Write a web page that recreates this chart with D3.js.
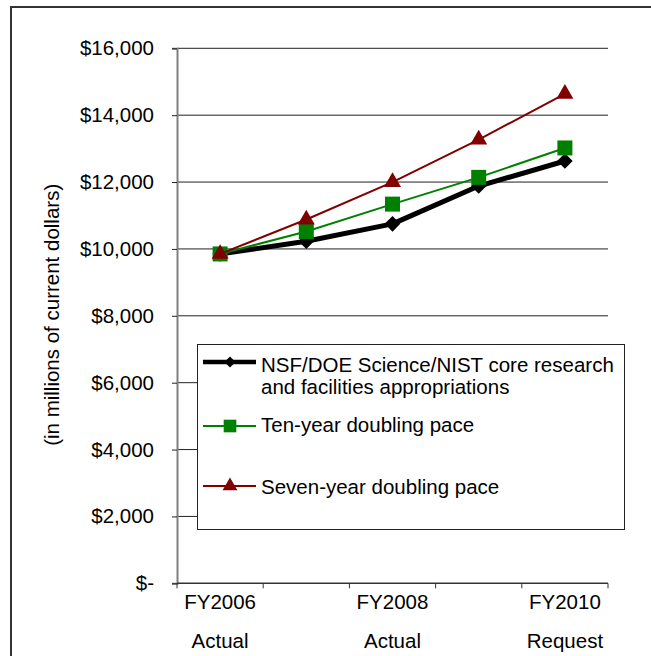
<!DOCTYPE html>
<html>
<head>
<meta charset="utf-8">
<script src="https://cdn.jsdelivr.net/npm/d3@7"></script>
<style>
  body { margin: 0; background: #fff; }
  text { font-family: "Liberation Sans", Arial, sans-serif; fill: #000; }
</style>
</head>
<body>
<div id="chart"></div>
<script>
// fiscal years (only every other one gets a label in the original)
var years = ['FY2006', 'FY2007', 'FY2008', 'FY2009', 'FY2010']
var yearNotes = ['Actual', 'Actual', 'Actual', 'Estimate', 'Request']
var showLabel = [true, false, true, false, true]

var appropriations = [9850, 10230, 10750, 11880, 12630]
var tenYear = [9850, 10520, 11340, 12140, 13020]
var sevenYear = [9850, 10880, 12000, 13270, 14640]

var yTicks = [0, 2000, 4000, 6000, 8000, 10000, 12000, 14000, 16000]

var seriesNames = ['NSF/DOE Science/NIST core research|and facilities appropriations', 'Ten-year doubling pace', 'Seven-year doubling pace']

var fs = '20.5px'

window.onload = function(){
  var w = 651, h = 656
  var svg = d3.select('#chart').append('svg').attr('width', w).attr('height', h)

  // outer frame, runs off the right and bottom edge
  svg.append('rect').attr('x', 11).attr('y', 7).attr('width', 700).attr('height', 700)
    .attr('fill', 'none').attr('stroke', '#333').attr('stroke-width', 2)

  var left = 177, right = 608, top = 48.3, bottom = 583.3

  var x = d3.scaleBand().domain(years).range([left, right]).padding(0)
  var y = d3.scaleLinear().domain([0, 16000]).range([bottom, top])
  var cx = function(d, i){ return x(years[i]) + x.bandwidth() / 2 }

  // gridlines
  svg.append('g').selectAll('line').data(yTicks.slice(1)).enter().append('line')
    .attr('x1', left).attr('x2', right)
    .attr('y1', function(d){ return y(d) }).attr('y2', function(d){ return y(d) })
    .attr('stroke', '#222').attr('stroke-width', 1)

  // y axis
  var yAxis = d3.axisLeft(y).tickValues(yTicks).tickSize(5).tickPadding(18)
    .tickFormat(function(d){ return d === 0 ? '$-' : '$' + d3.format(',')(d) })
  var gy = svg.append('g').attr('transform', 'translate(' + left + ',0)').call(yAxis)
  gy.select('.domain').attr('stroke', '#808080').attr('stroke-width', 2)
  gy.selectAll('.tick line').attr('stroke', '#222')
  gy.selectAll('.tick text').style('font-size', fs).attr('fill', '#000')
    .style('font-family', '"Liberation Sans", Arial, sans-serif')

  // x axis
  var xEdges = years.map(function(d){ return x(d) }).concat([right])
  var gx = svg.append('g')
  gx.append('line').attr('x1', left).attr('x2', right).attr('y1', bottom).attr('y2', bottom)
    .attr('stroke', '#333').attr('stroke-width', 1.5)
  gx.selectAll('line.tk').data(xEdges).enter().append('line').attr('class', 'tk')
    .attr('x1', function(d){ return d }).attr('x2', function(d){ return d })
    .attr('y1', bottom).attr('y2', bottom + 5).attr('stroke', '#333')
  years.forEach(function(yr, i){
    if(!showLabel[i]) return
    var t = gx.append('text').attr('x', cx(yr, i)).attr('text-anchor', 'middle').style('font-size', fs)
    t.append('tspan').attr('x', cx(yr, i)).attr('y', 609).text(yr)
    t.append('tspan').attr('x', cx(yr, i)).attr('y', 648).text(yearNotes[i])
  })

  // y axis title
  svg.append('text').attr('transform', 'translate(59,' + ((top + bottom) / 2 - 1) + ') rotate(-90)')
    .attr('text-anchor', 'middle').style('font-size', fs).text('(in millions of current dollars)')

  var line = d3.line().x(cx).y(function(d){ return y(d) })

  var series = [
    { values: appropriations, color: '#000', width: 5, shape: d3.symbolDiamond2, size: 155, lsize: 80 },
    { values: tenYear, color: '#008000', width: 2, shape: d3.symbolSquare, size: 225, lsize: 160 },
    { values: sevenYear, color: '#800000', width: 2, shape: d3.symbolTriangle, size: 125, lsize: 95 }
  ]

  series.forEach(function(s){
    svg.append('path').datum(s.values).attr('d', line).attr('fill', 'none')
      .attr('stroke', s.color).attr('stroke-width', s.width).attr('stroke-linejoin', 'round')
    svg.append('g').selectAll('path').data(s.values).enter().append('path')
      .attr('d', d3.symbol().type(s.shape).size(s.size))
      .attr('transform', function(d, i){ return 'translate(' + cx(d, i) + ',' + y(d) + ')' })
      .attr('fill', s.color)
  })

  // legend
  var lg = svg.append('g')
  lg.append('rect').attr('x', 197.5).attr('y', 344.5).attr('width', 427).attr('height', 185)
    .attr('fill', '#fff').attr('stroke', '#222').attr('stroke-width', 1)
  var rowY = [362, 426, 486]
  var textY = [[372, 394], [432], [494]]
  series.forEach(function(s, i){
    lg.append('line').attr('x1', 203).attr('x2', 256).attr('y1', rowY[i]).attr('y2', rowY[i])
      .attr('stroke', s.color).attr('stroke-width', s.width === 5 ? 4.5 : 2)
    lg.append('path').attr('d', d3.symbol().type(s.shape).size(s.lsize))
      .attr('transform', 'translate(230,' + rowY[i] + ')').attr('fill', s.color)
    var parts = seriesNames[i].split('|')
    var t = lg.append('text').style('font-size', fs)
    parts.forEach(function(p, j){
      t.append('tspan').attr('x', 261).attr('y', textY[i][j]).text(p)
    })
  })
}
</script>
</body>
</html>
